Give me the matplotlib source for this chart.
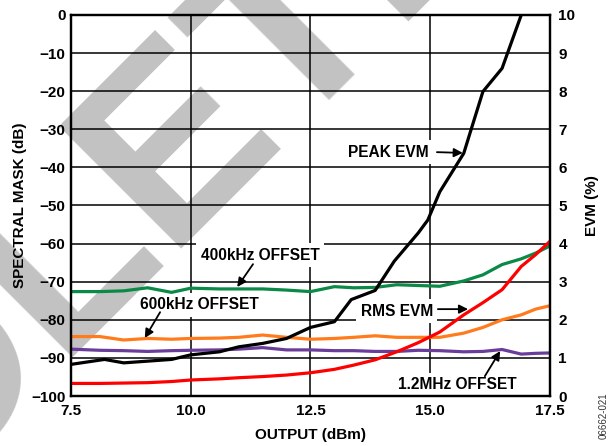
import matplotlib

matplotlib.use("Agg")
import matplotlib.pyplot as plt
from matplotlib.font_manager import FontProperties
import numpy as np

plt.rcParams["font.family"] = ["Liberation Sans", "DejaVu Sans"]
plt.rcParams["font.weight"] = "bold"

# output power (dBm) shared by the spectral mask / rms evm sweeps
output_dbm = [7.5, 8.1, 8.6, 9.1, 9.6, 10.0, 10.6, 11.0, 11.5, 12.0, 12.5, 13.0,
              13.4, 13.85, 14.3, 14.75, 15.2, 15.7, 16.1, 16.5, 16.9, 17.2, 17.5]
mask_400k = [-72.6, -72.6, -72.4, -71.6, -72.8, -71.7, -71.9, -71.9, -71.9, -72.2, -72.6, -71.3,
             -71.6, -71.5, -70.8, -71.0, -71.2, -69.8, -68.2, -65.5, -64.0, -62.5, -60.6]
mask_600k = [-84.4, -84.4, -85.3, -84.9, -85.1, -84.9, -84.8, -84.6, -84.0, -84.6, -85.1, -84.9,
             -84.6, -84.2, -84.6, -84.6, -84.6, -83.5, -82.0, -80.0, -78.7, -77.2, -76.3]
mask_1m2 = [-87.7, -88.0, -88.1, -88.3, -88.1, -88.0, -87.9, -87.7, -87.3, -87.9, -87.9, -88.1,
            -88.1, -88.3, -88.3, -88.0, -88.1, -88.4, -88.3, -87.8, -89.0, -88.8, -88.7]
rms_evm = [0.33, 0.33, 0.34, 0.35, 0.38, 0.42, 0.45, 0.48, 0.51, 0.55, 0.61, 0.70,
           0.81, 0.95, 1.16, 1.40, 1.68, 2.13, 2.45, 2.79, 3.40, 3.71, 4.06]

peak_dbm = [7.5, 8.2, 8.6, 9.6, 10.0, 10.6, 11.0, 11.5, 12.0, 12.5, 13.0, 13.35,
            13.85, 14.25, 14.75, 14.95, 15.2, 15.7, 15.85, 16.1, 16.5, 16.9]
peak_evm = [0.83, 0.96, 0.87, 0.96, 1.08, 1.16, 1.29, 1.38, 1.51, 1.80, 1.95, 2.53,
            2.77, 3.54, 4.28, 4.62, 5.36, 6.37, 6.98, 7.99, 8.60, 10.0]

x_ticks = [7.5, 10.0, 12.5, 15.0, 17.5]
db_ticks = list(range(-100, 1, 10))
evm_ticks = list(range(0, 11))

W, H = 610, 446
fig = plt.figure(figsize=(W / 100, H / 100), dpi=100, facecolor="white")
ax = fig.add_axes([0.1164, 0.1121, 0.7852, 0.8543])
ax2 = ax.twinx()
ax.patch.set_visible(False)
ax2.patch.set_visible(False)

# grey "OBSOLETE" watermark at 45 deg behind everything; place it so the
# second-to-last E sits where it does in the datasheet (pixel frame, y down)
wm = FontProperties(family="Liberation Sans", weight="bold", size=181)
rend = fig.canvas.get_renderer()
w5 = rend.get_text_width_height_descent("OBSOL", wm, ismath=False)[0]
w6 = rend.get_text_width_height_descent("OBSOLE", wm, ismath=False)[0]
u0 = 24 - (w5 + w6) / 2   # along baseline
v0 = -297                 # baseline offset
px = (u0 - v0) / np.sqrt(2)
py = (-v0 - u0) / np.sqrt(2)
fig.text(px / W, 1 - py / H, "OBSOLETE", rotation=45, rotation_mode="anchor",
         ha="left", va="baseline", fontproperties=wm, color="#c2c2c2", zorder=-1)

lw = 2.3
ax.plot(output_dbm, mask_400k, color="#0a8a46", lw=lw, zorder=2)
ax.plot(output_dbm, mask_600k, color="#ff7b1c", lw=lw, zorder=2)
ax.plot(output_dbm, mask_1m2, color="#6a3d9a", lw=lw, zorder=2)
ax2.plot(output_dbm, rms_evm, color="#ff0000", lw=lw, zorder=2)
ax2.plot(peak_dbm, peak_evm, color="black", lw=lw, zorder=2)

ax.set_xlim(7.5, 17.5)
ax.set_ylim(-100, 0)
ax2.set_ylim(0, 10)
ax.set_xticks(x_ticks)
ax.set_xticklabels([f"{v:.1f}" for v in x_ticks])
ax.set_yticks(db_ticks)
ax.set_yticklabels([str(v).replace("-", "\u2212") for v in db_ticks])
ax2.set_yticks(evm_ticks)
ax2.set_yticklabels([str(v) for v in evm_ticks])

ax.set_axisbelow(True)
ax.grid(True, color="black", lw=1.1)
for a in (ax, ax2):
    a.tick_params(length=0, labelsize=11)
    for lab in a.get_xticklabels() + a.get_yticklabels():
        lab.set_fontweight("bold")
    for s in a.spines.values():
        s.set_linewidth(1.6)
ax.tick_params(axis="y", pad=4)
ax.tick_params(axis="x", pad=6)
ax2.tick_params(axis="y", pad=6)

ax.set_xlabel("OUTPUT (dBm)", fontsize=11, fontweight="bold", labelpad=7)
ax.set_ylabel("SPECTRAL MASK (dB)", fontsize=11, fontweight="bold", labelpad=3)
ax2.set_ylabel("EVM (%)", fontsize=11, fontweight="bold", rotation=90, labelpad=7)

box = dict(boxstyle="square,pad=0.3", fc="white", ec="none")
arrow = dict(arrowstyle="-|>", color="black", lw=1.3, mutation_scale=13, shrinkA=0, shrinkB=0)
notes = [
    ("PEAK EVM", (15.68, -36.2), (14.12, -36.0), (15.14, -36.0)),
    ("400kHz OFFSET", (10.97, -71.4), (11.45, -63.0), (11.3, -65.4)),
    ("600kHz OFFSET", (9.04, -84.8), (10.19, -76.1), (9.36, -78.0)),
    ("RMS EVM", (15.79, -77.2), (14.3, -77.7), (15.16, -77.2)),
    ("1.2MHz OFFSET", (16.46, -88.2), (15.56, -97.1), (16.14, -94.8)),
]
for label, head, pos, tail in notes:
    ax.annotate("", xy=head, xytext=tail, arrowprops=arrow, zorder=1.6)
    ax.text(pos[0], pos[1], label, ha="center", va="center", fontsize=11.2,
            fontweight="bold", bbox=box, zorder=1.5)

fig.text(0.990, 0.067, "06662-021", rotation=90, ha="center", va="center",
         fontsize=7, fontweight="normal", color="#333333")

fig.savefig("out.png", dpi=100, facecolor="white")
